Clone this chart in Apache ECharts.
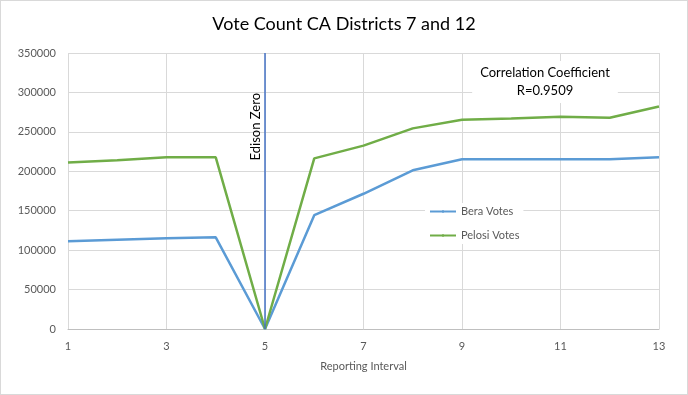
<!DOCTYPE html>
<html><head><meta charset="utf-8">
<script src="https://cdn.jsdelivr.net/npm/echarts@6/dist/echarts.min.js"></script>
<style>html,body{margin:0;padding:0;background:#fff}#c{width:688px;height:395px;box-sizing:border-box;border:1px solid #d9d9d9}</style>
</head><body><div id="c"></div>
<script>
const categories = ['1','2','3','4','5','6','7','8','9','10','11','12','13'];
const beraVotes = [111200, 113200, 115000, 116200, 0, 144400, 171500, 201300, 215200, 215200, 215200, 215200, 217700];
const pelosiVotes = [211000, 214000, 217700, 217700, 0, 216400, 232500, 254400, 265300, 267000, 269100, 267900, 282200];
const edisonZeroAt = '5';
const yTicks = {min: 0, max: 350000, interval: 50000};
const fontFam = 'Lato, "Open Sans", sans-serif';

const chart = echarts.init(document.getElementById('c'));
chart.setOption({
  animation: false,
  backgroundColor: '#fff',
  title: [
    {text: 'Vote Count CA Districts 7 and 12', left: 'center', top: 9,
     textStyle: {fontFamily: fontFam, fontSize: 18, fontWeight: 'normal', color: '#000'}},
    {text: 'Correlation Coefficient\nR=0.9509', left: 536, top: 60, textAlign: 'center',
     backgroundColor: '#fff', padding: [3, 8],
     textStyle: {fontFamily: fontFam, fontSize: 13, fontWeight: 'normal', color: '#000', lineHeight: 18}}
  ],
  grid: {left: 67, right: 28, top: 52, bottom: 65},
  legend: {
    orient: 'vertical', left: 424, top: 202, backgroundColor: '#fff',
    itemWidth: 26, itemHeight: 3, itemGap: 13, padding: [3, 4],
    textStyle: {fontFamily: fontFam, fontSize: 11, color: '#595959'},
    data: ['Bera Votes', 'Pelosi Votes']
  },
  xAxis: {
    type: 'category', data: categories, boundaryGap: false,
    name: 'Reporting Interval', nameLocation: 'middle', nameGap: 32,
    nameTextStyle: {fontFamily: fontFam, fontSize: 11, color: '#595959'},
    axisLine: {lineStyle: {color: '#bfbfbf'}},
    axisTick: {show: false},
    axisLabel: {interval: 1, fontFamily: fontFam, fontSize: 11, color: '#595959', margin: 12},
    splitLine: {show: true, interval: 1, lineStyle: {color: '#d9d9d9'}}
  },
  yAxis: {
    type: 'value', min: yTicks.min, max: yTicks.max, interval: yTicks.interval,
    axisLine: {show: false}, axisTick: {show: false},
    axisLabel: {fontFamily: fontFam, fontSize: 11, color: '#595959', margin: 12, formatter: v => String(v)},
    splitLine: {lineStyle: {color: '#d9d9d9'}}
  },
  series: [
    {name: 'Bera Votes', type: 'line', data: beraVotes, symbol: 'none',
     lineStyle: {color: '#5B9BD5', width: 2.5}, itemStyle: {color: '#5B9BD5'},
     markLine: {
       silent: true, symbol: ['none', 'none'],
       lineStyle: {color: '#4472C4', width: 1.5, type: 'solid'},
       label: {show: true, formatter: 'Edison Zero', position: 'insideEndTop', distance: [40, 3],
               fontFamily: fontFam, fontSize: 13, color: '#000'},
       data: [{xAxis: edisonZeroAt}]
     }},
    {name: 'Pelosi Votes', type: 'line', data: pelosiVotes, symbol: 'none', z: 3,
     lineStyle: {color: '#70AD47', width: 2.5}, itemStyle: {color: '#70AD47'}}
  ]
});
</script></body></html>
